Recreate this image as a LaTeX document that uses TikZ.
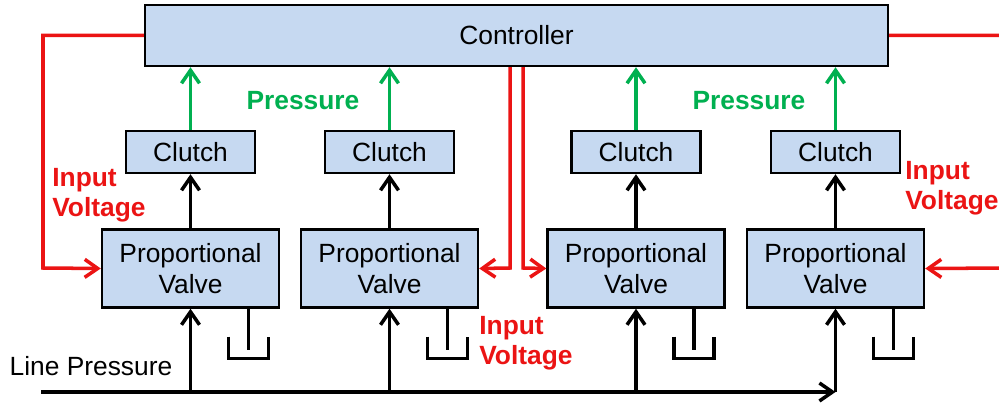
\documentclass[tikz,border=0pt]{standalone}
\usepackage{fontspec}
\setmainfont{Liberation Sans}
\usepackage{tikz}
\usetikzlibrary{arrows.meta}

\definecolor{boxblue}{RGB}{198,217,241}
\definecolor{voltred}{RGB}{235,20,20}
\definecolor{presgreen}{RGB}{0,176,80}

\begin{document}
\begin{tikzpicture}[
    x=0.02cm, y=-0.02cm,
    >={Straight Barb[length=2.6mm,width=3.6mm]},
    font=\fontsize{15}{18}\selectfont,
    box/.style={draw=black, line width=1.4pt, fill=boxblue, inner sep=0pt, align=center},
    pipe/.style={draw=black, line width=2pt},
    volt/.style={draw=voltred, line width=2pt},
    sens/.style={draw=presgreen, line width=2pt},
    redlab/.style={text=voltred, font=\fontsize{15}{17}\selectfont\bfseries, align=left, anchor=west, inner sep=0pt},
    greenlab/.style={text=presgreen, font=\fontsize{15}{18}\selectfont\bfseries},
  ]
    \useasboundingbox (0,0) rectangle (999,404);

    \node[box, minimum width=14.86cm, minimum height=1.22cm] (ctrl) at (516.5,35.5) {Controller};

    \foreach \i/\x in {1/190.5, 2/389.5, 3/636, 4/835.5} {
      \node[box, minimum width=2.58cm, minimum height=0.84cm] (c\i) at (\x,152) {Clutch};
      \node[box, minimum width=3.54cm, minimum height=1.56cm] (v\i) at (\x,268.5) {Proportional\\Valve};
      \draw[pipe, ->] (v\i) -- (c\i);
      \draw[sens, ->] (c\i.north) -- (c\i.north |- ctrl.south);
      % drain
      \draw[pipe] (v\i.south) ++(58,0) -- ++(0,41);
      \draw[pipe] (v\i.south) ++(38,28) -- ++(0,22) -- ++(40,0) -- ++(0,-22);
    }

    \node[greenlab] (p1) at (303,101) {Pressure};
    \node[greenlab] (p2) at (749,101) {Pressure};

    % line pressure
    \coordinate (lp) at (41,392);
    \node (lptxt) at (91,366) {Line Pressure};
    \draw[pipe, ->] (lp) -- (lp -| v4.south);
    \foreach \i in {1,...,4}
      \draw[pipe, ->] (lp -| v\i.south) -- (v\i.south);

    % input voltage
    \coordinate (lbend) at (43,268);
    \coordinate (m1) at (510,268);
    \coordinate (m2) at (523,268);
    \coordinate (rbend) at (1010,268);
    \draw[volt, ->] (ctrl.west) -| (lbend) -- (v1.west);
    \draw[volt, ->] (ctrl.south -| m1) -- (m1) -- (v2.east);
    \draw[volt, ->] (ctrl.south -| m2) -- (m2) -- (v3.west);
    \draw[volt, ->] (ctrl.east) -| (rbend) -- (v4.east);

    \node[redlab] (iv1) at (52,195) {Input\\Voltage};
    \node[redlab] (iv2) at (479,343) {Input\\Voltage};
    \node[redlab] (iv3) at (905,188) {Input\\Voltage};
  \end{tikzpicture}
\end{document}
